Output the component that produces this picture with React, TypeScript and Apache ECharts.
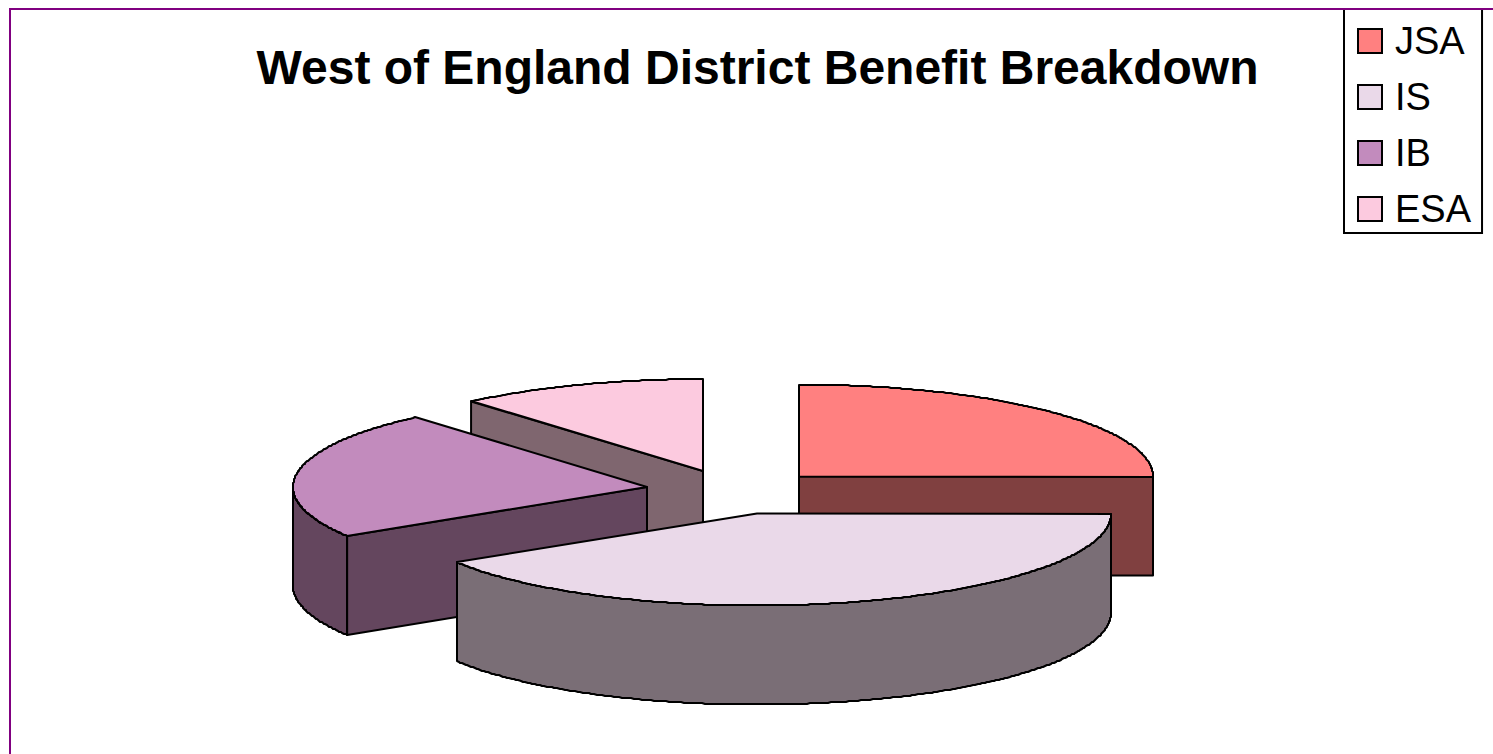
import React, { useEffect, useRef } from "react";
import * as echarts from "echarts";

const titleText = "West of England District Benefit Breakdown";
const categories = ["JSA", "IS", "IB", "ESA"];
const shares = [25, 41.08, 22.55, 11.37];

const topColors = ["#ff8080", "#ead9e9", "#c28bbd", "#fccadf"];
const sideColors = ["#804040", "#7a6e76", "#64465e", "#7f666f"];

// Pie geometry: projected ellipse radii, extrusion depth and how far each slice is pulled out.
const PIE_X = 730;
const PIE_Y = 492;
const RADIUS_X = 354;
const RADIUS_Y = 92;
const DEPTH = 99;
const START_DEG = -90;
const explodeX = [69, 27, -83, -27];
const explodeY = [-15.5, 21.5, -5, -21];

// Far slices are painted first so the near ones cover them.
const paintOrder = [0, 3, 2, 1];

const FONT = '"Liberation Sans", Arial, sans-serif';

// Curved edges snap to whole pixels, which gives them a slightly stepped outline.
function arcPoints(cx: number, cy: number, from: number, to: number) {
  const pts: number[][] = [];
  const n = Math.max(1, Math.ceil((to - from) / 0.5));
  for (let i = 0; i <= n; i++) {
    const t = ((from + ((to - from) * i) / n) * Math.PI) / 180;
    pts.push([
      Math.round(cx + RADIUS_X * Math.cos(t)),
      Math.round(cy + RADIUS_Y * Math.sin(t)),
    ]);
  }
  return pts;
}

function sliceRenderer(index: number) {
  return (_params: any, api: any) => {
    const total = shares.reduce((a, b) => a + b, 0);
    const before = shares.slice(0, index).reduce((a, b) => a + b, 0);
    const value = api.value(0);
    const a0 = START_DEG + (before / total) * 360;
    const a1 = a0 + (value / total) * 360;
    const cx = PIE_X + explodeX[index];
    const cy = PIE_Y + explodeY[index];
    const stroke = { stroke: "#000", lineWidth: 2, lineJoin: "round" };
    const side = { fill: sideColors[index], ...stroke };
    const children: any[] = [];

    // A radial wall shows only where its outward normal points towards the viewer.
    const wall = (deg: number) => {
      const t = (deg * Math.PI) / 180;
      const x = cx + RADIUS_X * Math.cos(t);
      const y = cy + RADIUS_Y * Math.sin(t);
      children.push({
        type: "polygon",
        shape: { points: [[cx, cy], [x, y], [x, y + DEPTH], [cx, cy + DEPTH]] },
        style: side,
      });
    };
    if (Math.cos((a0 * Math.PI) / 180) < -1e-6) wall(a0);
    if (Math.cos((a1 * Math.PI) / 180) > 1e-6) wall(a1);

    // Outer rim, limited to the front half of the ellipse.
    const rimFrom = Math.max(a0, 0);
    const rimTo = Math.min(a1, 180);
    if (rimTo > rimFrom) {
      const upper = arcPoints(cx, cy, rimFrom, rimTo);
      const lower = upper.map(([x, y]) => [x, y + DEPTH]).reverse();
      children.push({
        type: "polygon",
        shape: { points: [...upper, ...lower] },
        style: side,
      });
    }

    children.push({
      type: "polygon",
      shape: { points: [[cx, cy], ...arcPoints(cx, cy, a0, a1)] },
      style: { fill: topColors[index], ...stroke },
    });
    return { type: "group", silent: true, children };
  };
}

export default function App() {
  const ref = useRef<HTMLDivElement>(null);
  useEffect(() => {
    const chart = echarts.init(ref.current!, undefined, { renderer: "svg" });
    chart.setOption({
      animation: false,
      backgroundColor: "#fff",
      title: {
        text: titleText,
        left: 752.5,
        top: 38,
        textAlign: "center",
        textStyle: { fontFamily: FONT, fontSize: 48, fontWeight: "bold", color: "#000" },
      },
      legend: {
        data: categories,
        orient: "vertical",
        left: 1344,
        top: 9,
        padding: [13, 11, 5, 13],
        itemGap: 18,
        itemWidth: 24,
        itemHeight: 24,
        icon: "rect",
        selectedMode: false,
        backgroundColor: "#fff",
        borderColor: "#000",
        borderWidth: 2,
        itemStyle: { borderColor: "#000", borderWidth: 2 },
        textStyle: { fontFamily: FONT, fontSize: 38, color: "#000", padding: [0, 0, 0, 8] },
      },
      series: paintOrder.map((i) => ({
        type: "custom",
        name: categories[i],
        coordinateSystem: "none",
        data: [shares[i]],
        itemStyle: { color: topColors[i] },
        renderItem: sliceRenderer(i),
      })),
      graphic: [
        {
          type: "rect",
          z: 100,
          silent: true,
          shape: { x: 10, y: 9, width: 1600, height: 900 },
          style: { fill: "none", stroke: "#800080", lineWidth: 2 },
        },
      ],
    });
    return () => chart.dispose();
  }, []);
  return (
    <div
      ref={ref}
      style={{ position: "absolute", left: 0, top: 0, width: 1493, height: 754 }}
    />
  );
}
